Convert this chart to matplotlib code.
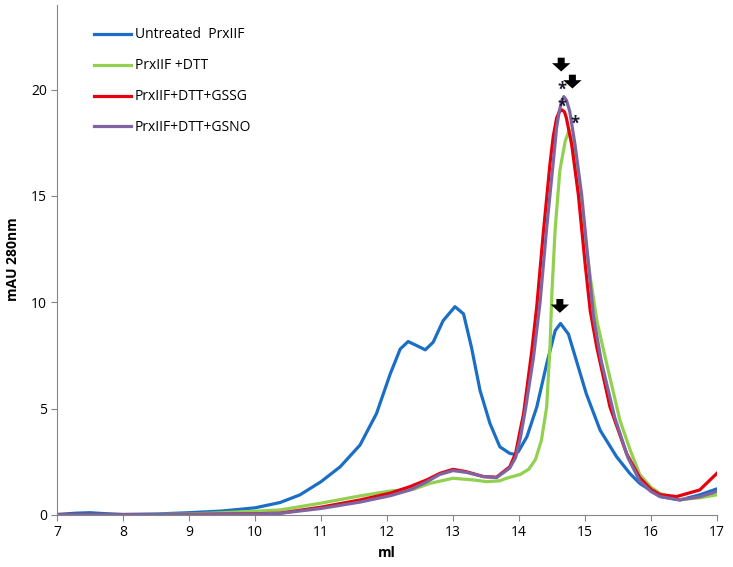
import numpy as np
import matplotlib.pyplot as plt
import matplotlib

plt.rcParams['font.family'] = ['Open Sans', 'DejaVu Sans']
plt.rcParams['font.size'] = 10

# elution volume (ml) and absorbance (mAU 280nm)
x_untreated = [7, 7.3, 7.5, 7.7, 8, 8.5, 9, 9.5, 10, 10.38, 10.68, 11.0, 11.29, 11.59, 11.84,
               12.05, 12.2, 12.32, 12.45, 12.58, 12.7, 12.85, 13.03, 13.16, 13.28, 13.41,
               13.56, 13.71, 13.86, 13.93, 13.99, 14.12, 14.27, 14.42, 14.55, 14.63, 14.75,
               14.87, 15.02, 15.23, 15.48, 15.68, 15.83, 16.14, 16.44, 16.74, 17.0]
y_untreated = [0.02, 0.08, 0.1, 0.06, 0.02, 0.04, 0.1, 0.18, 0.33, 0.58, 0.94, 1.56, 2.26, 3.28,
               4.76, 6.64, 7.8, 8.15, 7.96, 7.76, 8.12, 9.13, 9.79, 9.45, 7.88, 5.85,
               4.3, 3.2, 2.89, 2.85, 2.97, 3.67, 5.07, 7.1, 8.67, 9.0, 8.5,
               7.26, 5.7, 3.98, 2.73, 1.95, 1.48, 0.86, 0.7, 0.94, 1.22]

x_dtt = [7, 8, 9, 9.5, 10, 10.38, 11.0, 11.59, 12.05, 12.4, 12.65, 13.0, 13.31, 13.51, 13.71,
         13.81, 14.02, 14.15, 14.25, 14.34, 14.42, 14.47, 14.5, 14.55, 14.62, 14.7, 14.76, 14.85,
         14.95, 15.08, 15.18, 15.33, 15.53, 15.68, 15.83, 16.0, 16.14, 16.44, 16.74, 17.0]
y_dtt = [0, 0, 0.04, 0.1, 0.17, 0.23, 0.55, 0.89, 1.12, 1.2, 1.48, 1.72, 1.64, 1.56, 1.6,
         1.72, 1.9, 2.15, 2.6, 3.5, 5.07, 7.88, 10.5, 13.5, 16.2, 17.56, 18.1, 16.9,
         14.3, 11.2, 9.13, 7.1, 4.45, 3.1, 1.9, 1.3, 1.0, 0.72, 0.8, 0.94]

x_gssg = [7, 8, 9, 10, 10.38, 11.0, 11.59, 12.05, 12.35, 12.6, 12.8, 13.0, 13.2, 13.46, 13.66,
          13.86, 13.95, 14.02, 14.07, 14.19, 14.27, 14.37, 14.47, 14.52, 14.57, 14.61, 14.65,
          14.69, 14.72, 14.8, 14.9, 15.0, 15.08, 15.18, 15.38, 15.63, 15.83, 16.0, 16.14,
          16.39, 16.74, 17.0]
y_gssg = [0, 0, 0.02, 0.05, 0.08, 0.36, 0.7, 1.02, 1.33, 1.64, 1.95, 2.14, 2.03, 1.8, 1.77,
          2.26, 2.9, 4.0, 4.76, 7.6, 9.8, 13.3, 16.5, 17.8, 18.65, 18.95, 19.05,
          18.95, 18.65, 17.4, 15.06, 11.9, 9.6, 7.88, 5.07, 2.89, 1.75, 1.2, 0.95,
          0.86, 1.17, 1.95]

x_gsno = [7, 8, 9, 10, 10.38, 11.0, 11.59, 12.05, 12.35, 12.6, 12.8, 13.0, 13.2, 13.46, 13.66,
          13.86, 13.95, 14.02, 14.1, 14.22, 14.32, 14.42, 14.52, 14.57, 14.61, 14.65, 14.68,
          14.72, 14.77, 14.85, 14.95, 15.05, 15.13, 15.25, 15.45, 15.65, 15.83, 16.0, 16.14,
          16.44, 16.74, 17.0]
y_gsno = [0, 0, 0.02, 0.04, 0.07, 0.3, 0.6, 0.9, 1.17, 1.55, 1.9, 2.08, 2.0, 1.8, 1.75,
          2.2, 2.7, 3.6, 5.0, 7.4, 10.0, 13.5, 16.6, 18.2, 18.97, 19.5, 19.67,
          19.5, 18.97, 17.4, 15.06, 11.9, 9.3, 7.2, 4.6, 2.7, 1.6, 1.1, 0.86,
          0.7, 0.85, 1.1]

labels = ['Untreated  PrxIIF', 'PrxIIF +DTT', 'PrxIIF+DTT+GSSG', 'PrxIIF+DTT+GSNO']
colors = ['#1a6fc4', '#92d050', '#e8000b', '#8064a2']

# arrows (x, top, tip) and asterisks (x, y)
arrows = [(14.64, 21.5, 20.85), (14.81, 20.7, 20.05), (14.62, 10.15, 9.5)]

fig = plt.figure(figsize=(7.33, 5.67), dpi=100)
ax = fig.add_axes([0.078, 0.092, 0.9, 0.9])

ax.plot(x_untreated, y_untreated, color=colors[0], lw=2.3, label=labels[0], solid_joinstyle='round')
ax.plot(x_dtt, y_dtt, color=colors[1], lw=2.3, label=labels[1], solid_joinstyle='round')
ax.plot(x_gssg, y_gssg, color=colors[2], lw=2.3, label=labels[2], solid_joinstyle='round')
ax.plot(x_gsno, y_gsno, color=colors[3], lw=2.3, label=labels[3], solid_joinstyle='round')

for xa, top, tip in arrows:
    ax.annotate('', xy=(xa, tip), xytext=(xa, top),
                arrowprops=dict(arrowstyle='simple,head_width=1.1,head_length=0.5,tail_width=0.42',
                                color='black', lw=0, mutation_scale=12, shrinkA=0, shrinkB=0))

# asterisks over the peaks (two stacked ones share one text)
ax.text(14.655, 19.6, '*\n*', ha='center', va='center', fontsize=12, fontweight='bold',
        color='#1a1a2e', linespacing=0.95)
ax.text(14.85, 18.4, '*', ha='center', va='center', fontsize=12, fontweight='bold', color='#1a1a2e')

ax.set_xlim(7, 17)
ax.set_ylim(0, 24)
ax.set_xticks(range(7, 18))
ax.set_yticks([0, 5, 10, 15, 20])
ax.set_xlabel('ml', fontweight='bold', fontsize=10)
ax.set_ylabel('mAU 280nm', fontweight='bold', fontsize=10, labelpad=8)
ax.spines['top'].set_visible(False)
ax.spines['right'].set_visible(False)
ax.spines['left'].set_color('#868686')
ax.spines['bottom'].set_color('#868686')
ax.tick_params(colors='#868686', labelcolor='black', labelsize=10, length=4)

ax.legend(loc='upper left', bbox_to_anchor=(0.048, 0.966), frameon=False, fontsize=10,
          handlelength=2.65, labelspacing=1.15, handletextpad=0.25, borderaxespad=0)

fig.savefig('out.png', dpi=100)
